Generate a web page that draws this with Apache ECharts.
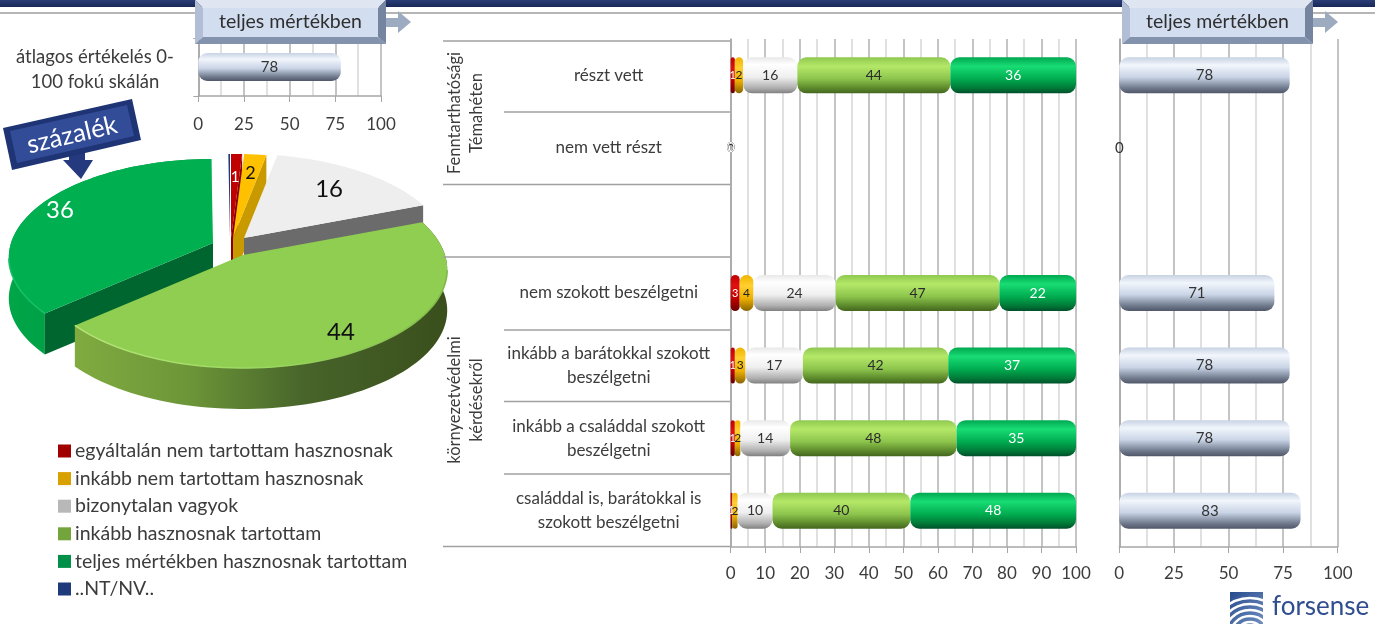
<!DOCTYPE html>
<html><head><meta charset="utf-8">
<style>html,body{margin:0;padding:0;background:#fff}#c{width:1382px;height:627px}</style>
<script src="https://cdn.jsdelivr.net/npm/echarts@6/dist/echarts.min.js"></script>
</head><body><div id="c"></div>
<script>
const FONT = 'Lato';
const seriesNames = ['egyáltalán nem tartottam hasznosnak','inkább nem tartottam hasznosnak','bizonytalan vagyok','inkább hasznosnak tartottam','teljes mértékben hasznosnak tartottam','..NT/NV..'];
const categories = ['részt vett','nem vett részt','','nem szokott beszélgetni','inkább a barátokkal szokott\nbeszélgetni','inkább a családdal szokott\nbeszélgetni','családdal is, barátokkal is\nszokott beszélgetni'];
const notAtAll = [1.2, 0, null, 2.6, 1.2, 1.2, 0.5];
const ratherNot = [2.4, 0, null, 4.0, 3.1, 1.6, 1.5];
const unsure = [15.7, 0, null, 23.8, 16.6, 14.4, 10.1];
const ratherYes = [44.3, 0, null, 47.4, 42.1, 48.2, 39.9];
const fully = [36.4, 0, null, 22.2, 37.0, 34.6, 48.0];
const noAnswer = [0, 0, null, 0, 0, 0, 0];
const meanByCategory = [78, 0, null, 71, 78, 78, 83];
const overallMean = [78];
const pieValues = [1, 2, 16, 44, 36, 0.15];
const pieLabels = ['1', '2', '16', '44', '36', ''];
const mainTicks = {min: 0, max: 100, interval: 10};
const meanTicks = {min: 0, max: 100, interval: 25};

const vg = (stops) => new echarts.graphic.LinearGradient(0, 0, 0, 1, stops.map((c, i) => ({offset: c[0], color: c[1]})));
const barFills = [
  vg([[0,'#c00000'],[0.3,'#e01010'],[0.65,'#c00000'],[1,'#6a0000']]),
  vg([[0,'#f0b400'],[0.3,'#ffd030'],[0.65,'#eeb000'],[1,'#8a6500']]),
  vg([[0,'#e8e8e8'],[0.2,'#ffffff'],[0.55,'#efefef'],[0.85,'#b0b0b0'],[1,'#808080']]),
  vg([[0,'#8fc850'],[0.25,'#b4e868'],[0.6,'#8cc44c'],[0.85,'#5d8a2c'],[1,'#44661e']]),
  vg([[0,'#00a850'],[0.25,'#18dc74'],[0.6,'#00ac50'],[0.85,'#007a38'],[1,'#00502a']]),
  '#1f3a7a'
];
const silver = vg([[0,'#c7d2e3'],[0.22,'#f2f6fc'],[0.55,'#c9d4e6'],[0.85,'#717b8e'],[1,'#4f5768']]);
const legendFills = ['#a00000','#d8a000','#b8b8b8','#74a53c','#00904a','#1f3a7a'];
const labelColors = ['#fff','#222','#333','#2b2b2b','#fff','#333'];
const labelSizes = [11,12,14,14,14,10];
const rowData = [notAtAll, ratherNot, unsure, ratherYes, fully, noAnswer];

const barSeries = seriesNames.map((name, i) => ({
  name, type: 'bar', stack: 'a', xAxisIndex: 0, yAxisIndex: 0, barWidth: 36,
  data: rowData[i], itemStyle: {color: barFills[i], borderRadius: 9},
  label: {show: i < 5, position: 'inside', fontFamily: FONT, color: labelColors[i], fontSize: labelSizes[i],
    formatter: p => p.value === 0 ? '0' : String(Math.round(p.value))}
}));

// geometry of the tilted pie
const RX = 202, RY = 96.4, PERSP = 0.147, DEPTH = 41;
const apex = [[231,238],[233,238],[244,238],[243,255],[213,243],[230,238]];
const drawOrder = [3,4,5,6,1,2]; // paint layer per slice
const topFill = ['#c00000','#ffc000','#eeeeee','#8fce50','#00b050','#1f3a7a'];
const cutFill = ['#8a0000','#c89a00','#6b6b6b',null,'#00662f',null];
const labelRadius = [0.72,0.78,0.73,0.82,0.88,0];
const labelFill = ['#fff','#111','#111','#111','#fff','#fff'];
const labelSize = [15,18,24,24,24,10];
const pieTotal = pieValues.reduce((a,b)=>a+b,0);
function piePoint(i, frac, r) {
  const th = frac * 2 * Math.PI, u = Math.sin(th), v = -Math.cos(th), s = 1/(1 - PERSP*v);
  return [apex[i][0] + RX*u*s*r, apex[i][1] + RY*v*s*r];
}
function renderSlice(params, api) {
  const i = params.dataIndex, val = api.value(0);
  let cum = 0; for (let k = 0; k < i; k++) cum += pieValues[k];
  const f0 = cum/pieTotal, f1 = (cum+val)/pieTotal;
  const n = Math.max(4, Math.round((f1-f0)*180));
  const arc = []; for (let k = 0; k <= n; k++) arc.push(piePoint(i, f0+(f1-f0)*k/n, 1));
  const z = drawOrder[i]*10, kids = [], a = apex[i];
  if (i === 3 || i === 4) {
    const low = arc.slice().reverse().map(p => [p[0], p[1]+DEPTH]);
    kids.push({type:'polygon', z2:z, shape:{points: arc.concat(low)},
      style:{fill: new echarts.graphic.LinearGradient(0,0,1,0, i===3
        ? [{offset:0,color:'#80ab40'},{offset:0.3,color:'#6d9638'},{offset:0.62,color:'#47642a'},{offset:1,color:'#3a4f1c'}]
        : [{offset:0,color:'#00a648'},{offset:1,color:'#008a3c'}])}});
  }
  if (cutFill[i]) {
    const e = i === 4 ? arc[0] : arc[arc.length-1];
    kids.push({type:'polygon', z2:z+1, shape:{points:[a,e,[e[0],e[1]+DEPTH],[a[0],a[1]+DEPTH]]}, style:{fill:cutFill[i]}});
  }
  kids.push({type:'polygon', z2:z+2, shape:{points:[a].concat(arc)}, style:{fill:topFill[i]}});
  if (i === 3 || i === 4) {
    const front = arc.filter(p => p[1] > a[1]+14);
    kids.push({type:'polyline', z2:z+3, shape:{points:front}, style:{stroke:i===3?new echarts.graphic.LinearGradient(0,0,1,0,[{offset:0,color:'#b4e478'},{offset:0.55,color:'#9ad660'},{offset:1,color:'#7fb648'}]):'#18c068',lineWidth:1.5,fill:null}});
  }
  if (pieLabels[i]) {
    const p = piePoint(i, (f0+f1)/2, labelRadius[i]);
    kids.push({type:'text', z2:200, x:p[0], y:p[1], style:{text:pieLabels[i], fill:labelFill[i], fontFamily:FONT, fontSize:labelSize[i], align:'center', verticalAlign:'middle'}});
  }
  return {type:'group', children:kids};
}

const axisGray = '#a6a6a6', softGray = '#d6d6d6', txt = '#3c3c3c';
const valAxis = (grid, t, lblMargin) => ({
  type:'value', gridIndex:grid, min:t.min, max:t.max, interval:t.interval, position:'bottom',
  axisLine:{show:true, onZero:false, lineStyle:{color:axisGray,width:1.5}},
  axisTick:{show:true,length:6,lineStyle:{color:axisGray}},
  axisLabel:{fontFamily:FONT,fontSize:17,color:txt,margin:lblMargin,hideOverlap:false},
  splitLine:{show:true,lineStyle:{color:'#b0b0b0',width:1.5}},
  minorTick:{show:false,splitNumber:2},
  minorSplitLine:{show:true,lineStyle:{color:softGray,width:1.5}}
});

const bevelBox = (x) => ([
  {type:'polygon',z:20,shape:{points:[[x,0],[x+191,0],[x+183,8],[x+8,8]]},style:{fill:'#dfe6f2'}},
  {type:'polygon',z:20,shape:{points:[[x,0],[x+8,8],[x+8,37],[x,44]]},style:{fill:'#b1bed6'}},
  {type:'polygon',z:20,shape:{points:[[x+191,0],[x+183,8],[x+183,37],[x+191,44]]},style:{fill:'#75849f'}},
  {type:'polygon',z:20,shape:{points:[[x,44],[x+8,37],[x+183,37],[x+191,44]]},style:{fill:'#8493ad'}},
  {type:'rect',z:20,shape:{x:x+8,y:8,width:175,height:29},style:{fill:'#d2ddef'}},
  {type:'polygon',z:19,shape:{points:[[x+187,18],[x+203,18],[x+203,11],[x+216,22],[x+203,33],[x+203,27],[x+187,27]]},style:{fill:'#9dabc0'}},
  {type:'text',z:21,x:x+95.5,y:22,style:{text:'teljes mértékben',fontFamily:FONT,fontSize:19.5,fill:'#2f2f2f',align:'center',verticalAlign:'middle'}}
]);
const hline = (x1,x2,y,c) => ({type:'line',z:5,shape:{x1,y1:y,x2,y2:y},style:{stroke:c||'#a0a0a0',lineWidth:1.5}});
const vtext = (x,y,s) => ({type:'text',z:6,x,y,rotation:Math.PI/2,style:{text:s,fontFamily:FONT,fontSize:16.5,fill:txt,align:'center',verticalAlign:'middle',lineHeight:22}});

const logoArcs = [8,14,20,26,32,38].map(r => ({type:'arc',z:22,shape:{cx:1250,cy:636,r,startAngle:Math.PI,endAngle:Math.PI*1.75,clockwise:true},style:{stroke:'#fff',lineWidth:2.5,fill:null}}));

const option = {
  animation:false, backgroundColor:'#fff',
  textStyle:{fontFamily:FONT},
  grid:[
    {left:730.7,width:345.3,top:39,height:508},
    {left:198.3,width:182.7,top:38,height:58},
    {left:1119.3,width:218.4,top:39,height:508}
  ],
  xAxis:[valAxis(0,mainTicks,18),valAxis(1,meanTicks,20),valAxis(2,meanTicks,18)],
  yAxis:[
    {type:'category',gridIndex:0,inverse:true,data:categories,axisLine:{onZero:false,lineStyle:{color:axisGray,width:1.5}},axisTick:{show:false},
      axisLabel:{interval:0,fontFamily:FONT,fontSize:17,color:txt,align:'center',margin:122,lineHeight:24,padding:[4,0,0,0]}},
    {type:'category',gridIndex:1,data:['mean'],axisLine:{onZero:false,lineStyle:{color:axisGray,width:1.5}},axisTick:{show:true,length:5,lineStyle:{color:axisGray}},axisLabel:{show:false}},
    {type:'category',gridIndex:2,inverse:true,data:categories,axisLine:{onZero:false,lineStyle:{color:axisGray,width:1.5}},axisTick:{show:false},axisLabel:{show:false}}
  ],
  legend:{orient:'vertical',left:58,top:441,padding:0,itemWidth:13,itemHeight:13,itemGap:7.6,selectedMode:false,icon:'rect',
    textStyle:{fontFamily:FONT,fontSize:19.5,color:txt,padding:[0,0,0,-1],lineHeight:20},
    data:seriesNames.map((name,i)=>({name,itemStyle:{color:legendFills[i]}}))},
  series:[
    ...barSeries,
    {name:'átlag',type:'bar',xAxisIndex:1,yAxisIndex:1,barWidth:28,data:overallMean,itemStyle:{color:silver,borderRadius:9},
      label:{show:true,position:'inside',fontFamily:FONT,fontSize:15,color:'#333'}},
    {name:'átlag részletes',type:'bar',xAxisIndex:2,yAxisIndex:2,barWidth:36,data:meanByCategory,itemStyle:{color:silver,borderRadius:9},
      label:{show:true,position:'inside',fontFamily:FONT,fontSize:15,color:'#333'}},
    {name:'kör',type:'custom',coordinateSystem:'none',renderItem:renderSlice,data:pieValues.map(v=>[v]),z:3,silent:true}
  ],
  graphic:{elements:[
    {type:'rect',z:1,shape:{x:0,y:0,width:1375,height:7},style:{fill:new echarts.graphic.LinearGradient(0,0,0,1,[{offset:0,color:'#2b3d78'},{offset:1,color:'#182858'}])}},
    {type:'rect',z:1,shape:{x:0,y:12,width:1375,height:2},style:{fill:'#b5b5b5'}},
    ...bevelBox(195),...bevelBox(1122),
    {type:'text',z:6,x:95,y:69.5,style:{text:'átlagos értékelés 0-\n100 fokú skálán',fontFamily:FONT,fontSize:18.5,fill:txt,align:'center',verticalAlign:'middle',lineHeight:25}},
    // százalék banner
    {type:'polygon',z:8,shape:{points:[[63,160],[69,160],[69,148],[85,148],[85,160],[93,160],[81,179]]},style:{fill:'#24397e'}},
    {type:'polygon',z:9,shape:{points:[[3,128],[132,99],[141,140],[12,170]]},style:{fill:'#1f3474'}},
    {type:'polygon',z:9,shape:{points:[[10,131],[127,105],[134,136],[17,163]]},style:{fill:'#324c98'}},
    {type:'text',z:10,x:72,y:135,rotation:0.23,style:{text:'százalék',fontFamily:FONT,fontSize:25.5,fill:'#fff',align:'center',verticalAlign:'middle'}},
    // table rules
    hline(443,730,41),hline(504,730,112),hline(443,730,184.5),hline(443,730,257),
    hline(504,730,330),hline(504,730,401.5),hline(504,730,474),hline(443,730,546.5),
    vtext(466,113,'Fenntarthatósági\nTémahéten'),vtext(466,400,'környezetvédelmi\nkérdésekről'),
    // logo
    {type:'rect',z:21,shape:{x:1230,y:592,width:33,height:32},style:{fill:new echarts.graphic.LinearGradient(0,0,1,1,[{offset:0,color:'#274a8c'},{offset:1,color:'#6f8fc0'}])}},
    ...logoArcs,
    {type:'rect',z:23,shape:{x:1220,y:590,width:10,height:37},style:{fill:'#fff'}},
    {type:'rect',z:23,shape:{x:1220,y:624,width:50,height:3},style:{fill:'#fff'}},
    {type:'rect',z:23,shape:{x:1263,y:590,width:8,height:37},style:{fill:'#fff'}},
    {type:'text',z:24,x:1272,y:607,style:{text:'forsense',fontFamily:FONT,fontSize:26,fill:'#2f4d8f',align:'left',verticalAlign:'middle'}}
  ]}
};
echarts.init(document.getElementById('c'),null,{renderer:'canvas'}).setOption(option);
</script></body></html>
